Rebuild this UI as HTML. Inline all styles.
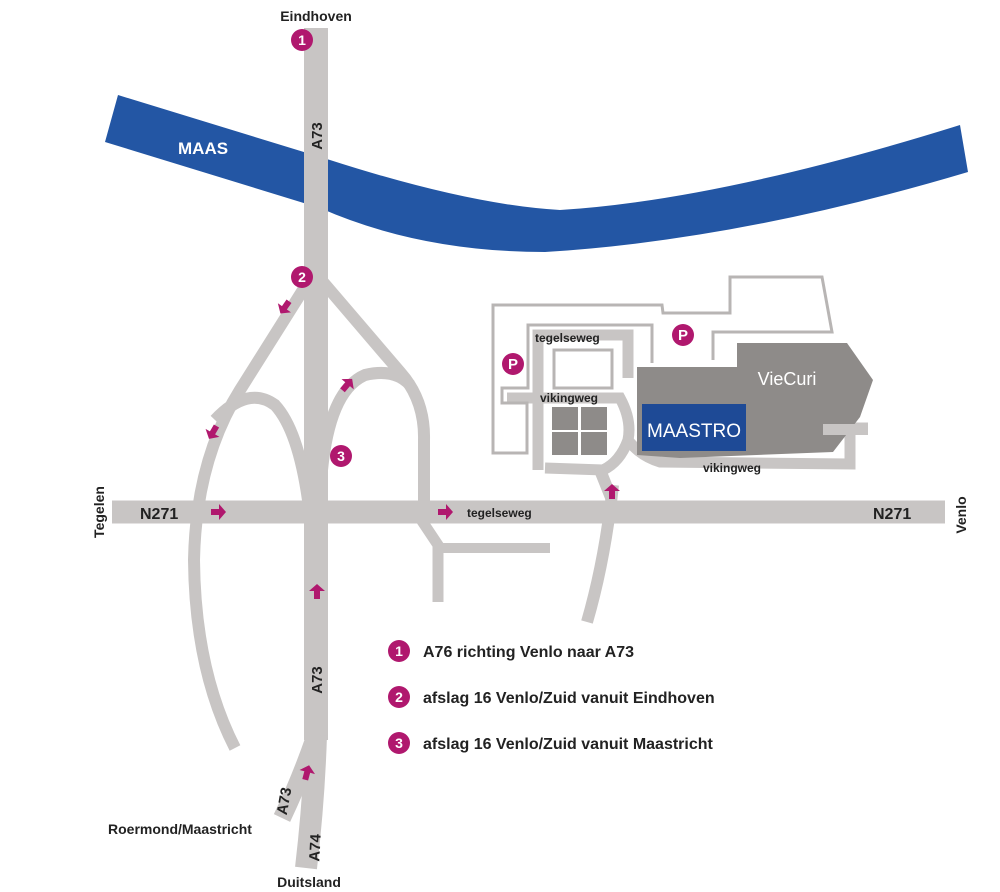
<!DOCTYPE html>
<html><head><meta charset="utf-8"><style>
html,body{margin:0;padding:0;background:#fff;}
svg{display:block;font-family:"Liberation Sans",sans-serif;}
</style></head><body>
<svg width="1000" height="892" viewBox="0 0 1000 892" xmlns="http://www.w3.org/2000/svg">
<defs>
<g id="ar"><path d="M-7,-3 L1,-3 L1,-8 L8,0 L1,8 L1,3 L-7,3 Z" fill="#b0186e"/></g>
</defs>
<path d="M118,95 L330,160 Q470,205 560,210 Q720,200 960,125 L968,172 Q740,240 545,252 Q420,252 320,208 L105,142 Z" fill="#2356a4"/>
<g fill="none" stroke="#c8c5c4" stroke-linecap="butt">
<path d="M316,28 L316,740" stroke-width="24"/>
<path d="M316,735 Q314,800 306,868" stroke-width="22"/>
<path d="M314,740 Q300,780 282,818" stroke-width="18"/>
<path d="M112,512 L945,512" stroke-width="23"/>
<path d="M308,282 L240,390 Q196,460 194,560 Q195,670 235,748" stroke-width="12"/>
<path d="M215,420 Q248,385 275,405 Q298,430 308,500" stroke-width="12"/>
<path d="M323,282 L400,372 Q425,400 424,440 L424,505" stroke-width="12"/>
<path d="M322,470 Q330,390 365,375 Q395,368 410,385" stroke-width="12"/>
<path d="M420,518 L438,545 L438,602" stroke-width="11"/>
<path d="M436,548 L550,548" stroke-width="10"/>
<path d="M613,485 Q605,560 587,622" stroke-width="12"/>
<path d="M538,470 L538,335 L628,335 L628,378" stroke-width="11"/>
<path d="M507,398 L620,398 Q632,420 628,440 Q620,462 603,470 L545,468" stroke-width="11"/>
<path d="M600,470 L612,500" stroke-width="12"/>
<path d="M628,440 Q640,456 660,462 L850,464 L850,428 L868,428" stroke-width="11"/>
</g>
<g fill="none" stroke="#b8b5b4" stroke-width="3">
<path d="M713,360 L713,332 L832,332 L822,277 L730,277 L730,313 L663,313 L662,305 L493,305 L493,453 L527,453 L527,403 L502,403 L502,388 L528,388 L528,325 L652,325 L652,363"/>
<rect x="554" y="350" width="58" height="38"/>
</g>
<path d="M637,367 L737,367 L737,343 L847,343 L873,380 L860,417 L833,452 L680,458 L637,455 Z" fill="#8e8b89"/>
<rect x="823" y="424" width="45" height="11" fill="#c8c5c4"/>
<g fill="#8e8b89">
<rect x="552" y="407" width="26" height="23"/><rect x="581" y="407" width="26" height="23"/>
<rect x="552" y="432" width="26" height="23"/><rect x="581" y="432" width="26" height="23"/>
</g>
<rect x="642" y="404" width="104" height="47" fill="#1e4a96"/>
<text x="694" y="437" fill="#fff" font-size="19" text-anchor="middle">MAASTRO</text>
<text x="787" y="385" fill="#fff" font-size="18" text-anchor="middle">VieCuri</text>
<g fill="#b0186e"><circle cx="513" cy="364" r="11"/><circle cx="683" cy="335" r="11"/></g>
<g fill="#fff" font-size="15" font-weight="bold" text-anchor="middle"><text x="513" y="369">P</text><text x="683" y="340">P</text></g>
<g fill="#b0186e"><circle cx="302" cy="40" r="11"/><circle cx="302" cy="277" r="11"/><circle cx="341" cy="456" r="11"/>
<circle cx="399" cy="651" r="11"/><circle cx="399" cy="697" r="11"/><circle cx="399" cy="743" r="11"/></g>
<g fill="#fff" font-size="14" font-weight="bold" text-anchor="middle">
<text x="302" y="45">1</text><text x="302" y="282">2</text><text x="341" y="461">3</text>
<text x="399" y="656">1</text><text x="399" y="702">2</text><text x="399" y="748">3</text></g>
<use href="#ar" transform="translate(285,307) rotate(125)"/>
<use href="#ar" transform="translate(213,432) rotate(120)"/>
<use href="#ar" transform="translate(347,385) rotate(-50)"/>
<use href="#ar" transform="translate(218,512)"/>
<use href="#ar" transform="translate(445,512)"/>
<use href="#ar" transform="translate(317,592) rotate(-90)"/>
<use href="#ar" transform="translate(612,492) rotate(-90)"/>
<use href="#ar" transform="translate(307,773) rotate(-75)"/>
<g fill="#222" font-weight="bold">
<text x="316" y="21" font-size="14" text-anchor="middle">Eindhoven</text>
<text x="309" y="887" font-size="14" text-anchor="middle">Duitsland</text>
<text x="108" y="834" font-size="14">Roermond/Maastricht</text>
<text x="140" y="519" font-size="16">N271</text>
<text x="873" y="519" font-size="16">N271</text>
<text x="467" y="517" font-size="12">tegelseweg</text>
<text x="535" y="342" font-size="12">tegelseweg</text>
<text x="540" y="402" font-size="12">vikingweg</text>
<text x="703" y="472" font-size="12">vikingweg</text>
<text transform="translate(104,512) rotate(-90)" font-size="14" text-anchor="middle">Tegelen</text>
<text transform="translate(966,515) rotate(-90)" font-size="14" text-anchor="middle">Venlo</text>
<text transform="translate(322,136) rotate(-90)" font-size="15" text-anchor="middle">A73</text>
<text transform="translate(322,680) rotate(-90)" font-size="15" text-anchor="middle">A73</text>
<text transform="translate(289,802) rotate(-80)" font-size="15" text-anchor="middle">A73</text>
<text transform="translate(320,848) rotate(-87)" font-size="15" text-anchor="middle">A74</text>
</g>
<text x="178" y="154" fill="#fff" font-size="17" font-weight="bold">MAAS</text>
<g fill="#222" font-size="16" font-weight="bold">
<text x="423" y="657">A76 richting Venlo naar A73</text>
<text x="423" y="703">afslag 16 Venlo/Zuid vanuit Eindhoven</text>
<text x="423" y="749">afslag 16 Venlo/Zuid vanuit Maastricht</text>
</g>
</svg>
</body></html>
